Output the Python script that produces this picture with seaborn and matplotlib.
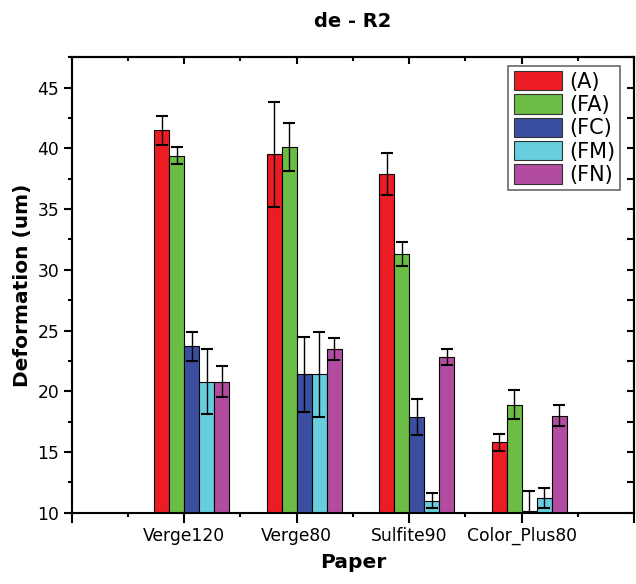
import numpy as np
import pandas as pd
import matplotlib
matplotlib.use('Agg')
import matplotlib.pyplot as plt
import matplotlib.patches as mpatches
from matplotlib.ticker import FixedLocator, MultipleLocator
import seaborn as sns

papers = ['Verge120', 'Verge80', 'Sulfite90', 'Color_Plus80']
series = ['(A)', '(FA)', '(FC)', '(FM)', '(FN)']

a_mean = [41.5, 39.5, 37.9, 15.8]
fa_mean = [39.4, 40.1, 31.3, 18.9]
fc_mean = [23.7, 21.4, 17.9, 10.15]
fm_mean = [20.8, 21.4, 11.0, 11.2]
fn_mean = [20.8, 23.5, 22.8, 18.0]

a_err = [1.2, 4.3, 1.75, 0.7]
fa_err = [0.7, 2.0, 1.0, 1.2]
fc_err = [1.2, 3.1, 1.5, 1.65]
fm_err = [2.7, 3.5, 0.6, 0.8]
fn_err = [1.25, 0.9, 0.65, 0.9]

colors = ['#ED1C24', '#6CBD45', '#3A4FA0', '#68CDDD', '#B24CA0']

means = dict(zip(series, [a_mean, fa_mean, fc_mean, fm_mean, fn_mean]))
errs = dict(zip(series, [a_err, fa_err, fc_err, fm_err, fn_err]))

rows = []
for s in series:
    for p, v in zip(papers, means[s]):
        rows.append({'paper': p, 'series': s, 'value': v})
df = pd.DataFrame(rows)

sns.set_style('ticks')
plt.rcParams['font.family'] = ['DejaVu Sans']
for key in ['text.color', 'axes.labelcolor', 'xtick.color', 'ytick.color', 'axes.edgecolor']:
    plt.rcParams[key] = 'black'

fig = plt.figure(figsize=(6.36, 5.84), dpi=100)
ax = fig.add_axes([0.1127, 0.1221, 0.8845, 0.7798])

group_w = 0.67
sns.barplot(data=df, x='paper', y='value', hue='series', order=papers,
            hue_order=series, palette=colors, saturation=1, width=group_w,
            edgecolor='black', linewidth=0.8, errorbar=None, legend=False, ax=ax)

for cont, s in zip(ax.containers, series):
    xs = [b.get_x() + b.get_width() / 2 for b in cont]
    ax.errorbar(xs, means[s], yerr=errs[s], fmt='none', ecolor='black',
                elinewidth=1.0, capsize=4.5, capthick=1.5, zorder=3)

# Origin-style ticks sit at the edge between 2nd and 3rd bar
shift = -group_w / len(series) / 2
major_x = np.arange(-1, len(papers) + 1) + shift
minor_x = np.arange(-1, len(papers)) + 0.5 + shift
ax.set_xlim(major_x[0], major_x[-1])
ax.set_xticks(major_x)
ax.set_xticklabels([''] + papers + [''], fontsize=12.3)
ax.xaxis.set_minor_locator(FixedLocator(minor_x))

ax.set_ylim(10, 47.5)
ax.set_yticks(np.arange(10, 46, 5))
ax.yaxis.set_minor_locator(MultipleLocator(2.5))
ax.tick_params(axis='y', labelsize=12.3)

ax.tick_params(axis='x', which='major', direction='out', length=7, width=1.5, pad=3)
ax.tick_params(axis='x', which='minor', direction='out', length=3, width=1.5)
ax.tick_params(axis='y', which='major', direction='out', length=6, width=1.5, pad=3)
ax.tick_params(axis='y', which='minor', direction='out', length=3, width=1.5)
ax.tick_params(top=False, right=False, which='both')

for sp in ax.spines.values():
    sp.set_linewidth(1.5)
    sp.set_color('black')

top = ax.secondary_xaxis('top')
top.set_xticks(major_x, labels=[])
top.xaxis.set_minor_locator(FixedLocator(minor_x))
top.tick_params(which='major', direction='in', length=5, width=1.5, color='black')
top.tick_params(which='minor', direction='in', length=3, width=1.5, color='black')
top.spines['top'].set_linewidth(1.5)
top.spines['top'].set_color('black')

right = ax.secondary_yaxis('right')
right.set_yticks(np.arange(10, 46, 5), labels=[])
right.yaxis.set_minor_locator(MultipleLocator(2.5))
right.tick_params(which='both', direction='in', length=5, width=1.5, color='black')
right.spines['right'].set_linewidth(1.5)
right.spines['right'].set_color('black')

ax.set_xlabel('Paper', fontsize=14.5, fontweight='bold', labelpad=6)
ax.set_ylabel('Deformation (um)', fontsize=14.5, fontweight='bold', labelpad=4)
ax.set_title('de - R2', fontsize=14, fontweight='bold', pad=22)

handles = [mpatches.Patch(facecolor=c, edgecolor='#333333', linewidth=0.8, label=s)
           for c, s in zip(colors, series)]
leg = ax.legend(handles=handles, loc='upper right', bbox_to_anchor=(0.975, 0.981),
                borderaxespad=0, fontsize=15, frameon=True, fancybox=False,
                handlelength=2.3, handleheight=1.05, handletextpad=0.35,
                labelspacing=0.12, borderpad=0.25)
leg.get_frame().set_edgecolor('#444444')
leg.get_frame().set_linewidth(1.2)

fig.savefig('out.png', dpi=100)
